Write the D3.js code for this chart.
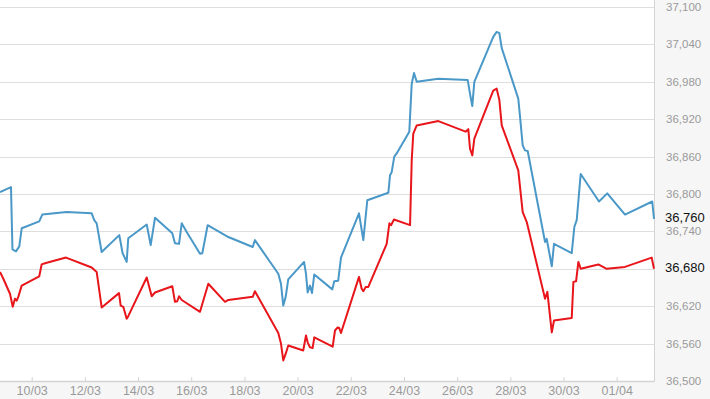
<!DOCTYPE html>
<html><head><meta charset="utf-8">
<script src="https://cdn.jsdelivr.net/npm/d3@7"></script>
<style>
html,body{margin:0;padding:0;background:#f6f6f6;}
svg{display:block;}
</style></head>
<body>
<script>
// ---- data ----
const blueDates = ["2020-03-08 19:25","2020-03-09 05:20","2020-03-09 06:40","2020-03-09 09:50","2020-03-09 12:50","2020-03-09 15:00",
"2020-03-10 06:50","2020-03-10 09:35","2020-03-11 07:35","2020-03-12 06:10","2020-03-12 08:30","2020-03-12 10:40","2020-03-12 15:10",
"2020-03-13 07:05","2020-03-13 10:05","2020-03-13 13:45","2020-03-13 15:10","2020-03-14 07:50","2020-03-14 11:25","2020-03-14 15:20",
"2020-03-15 06:55","2020-03-15 09:20","2020-03-15 13:00","2020-03-15 15:25","2020-03-15 19:55","2020-03-16 07:55","2020-03-16 10:00",
"2020-03-16 14:50","2020-03-17 09:30","2020-03-18 07:30","2020-03-18 09:30","2020-03-19 06:35","2020-03-19 09:00","2020-03-19 11:05",
"2020-03-19 13:15","2020-03-19 15:35","2020-03-20 05:50","2020-03-20 07:35","2020-03-20 09:05","2020-03-20 11:10","2020-03-20 13:00",
"2020-03-20 15:05","2020-03-21 07:20","2020-03-21 09:05","2020-03-21 12:40","2020-03-21 15:10","2020-03-22 07:25","2020-03-22 11:20",
"2020-03-22 14:55","2020-03-23 09:55","2020-03-23 11:25","2020-03-23 12:55","2020-03-23 15:15","2020-03-23 17:25","2020-03-24 04:50",
"2020-03-24 07:00","2020-03-24 09:05","2020-03-24 11:30","2020-03-25 07:00","2020-03-26 09:30","2020-03-26 11:35","2020-03-26 13:40",
"2020-03-26 15:30","2020-03-27 08:35","2020-03-27 11:40","2020-03-27 14:05","2020-03-27 16:15","2020-03-28 07:10","2020-03-28 08:45",
"2020-03-28 11:10","2020-03-28 13:15","2020-03-28 15:40","2020-03-29 07:20","2020-03-29 08:50","2020-03-29 13:25","2020-03-29 15:25",
"2020-03-30 07:25","2020-03-30 09:45","2020-03-30 11:55","2020-03-30 15:30","2020-03-31 08:00","2020-03-31 15:30","2020-04-01 07:30",
"2020-04-02 08:05","2020-04-02 09:40"];
const blueValues = [36803,36811,36711,36708,36716,36745,
36756,36767,36771,36769,36758,36753,36707,
36734,36705,36691,36729,36751,36718,36762,
36737,36721,36720,36753,36739,36704,36705,
36750,36731,36715,36726,36672,36656,36621,
36635,36663,36691,36672,36642,36653,36641,
36671,36647,36660,36661,36698,36769,36726,
36790,36802,36830,36835,36860,36865,36900,
36977,36994,36980,36985,36983,36961,36941,
36980,37052,37060,37058,37034,36953,36924,
36878,36870,36869,36723,36728,36684,36720,
36705,36747,36758,36832,36788,36801,36767,
36788,36760];

const redDates = ["2020-03-08 19:25","2020-03-08 22:25","2020-03-09 04:25","2020-03-09 06:55","2020-03-09 08:55","2020-03-09 10:30","2020-03-09 11:55","2020-03-09 15:00",
"2020-03-10 06:50","2020-03-10 09:00","2020-03-10 12:00","2020-03-11 07:00","2020-03-12 06:10","2020-03-12 10:40","2020-03-12 15:10",
"2020-03-13 06:50","2020-03-13 08:20","2020-03-13 10:40","2020-03-13 13:45","2020-03-13 15:10","2020-03-14 07:50","2020-03-14 12:20","2020-03-14 15:20",
"2020-03-15 06:55","2020-03-15 09:20","2020-03-15 11:25","2020-03-15 13:00","2020-03-15 15:25","2020-03-16 07:55","2020-03-16 15:25",
"2020-03-17 06:30","2020-03-17 09:30","2020-03-18 07:30","2020-03-18 09:30","2020-03-19 06:35","2020-03-19 09:00","2020-03-19 11:05",
"2020-03-19 13:30","2020-03-19 15:35","2020-03-20 05:05","2020-03-20 07:35","2020-03-20 09:05","2020-03-20 11:10","2020-03-20 13:35",
"2020-03-20 15:05","2020-03-21 07:40","2020-03-21 09:45","2020-03-21 12:10","2020-03-21 13:35","2020-03-21 15:10","2020-03-22 07:25",
"2020-03-22 09:50","2020-03-22 11:20","2020-03-22 13:30","2020-03-22 15:50","2020-03-23 08:25","2020-03-23 10:50","2020-03-23 12:20",
"2020-03-23 15:00","2020-03-24 05:30","2020-03-24 07:00","2020-03-24 08:25","2020-03-24 11:30","2020-03-25 07:00","2020-03-26 07:40",
"2020-03-26 10:05","2020-03-26 11:35","2020-03-26 13:40","2020-03-26 15:30","2020-03-27 08:35","2020-03-27 11:40","2020-03-27 14:05",
"2020-03-27 16:15","2020-03-28 07:10","2020-03-28 11:10","2020-03-28 14:50","2020-03-29 07:20","2020-03-29 09:25","2020-03-29 13:25",
"2020-03-29 15:25","2020-03-30 07:25","2020-03-30 08:55","2020-03-30 11:20","2020-03-30 13:25","2020-03-30 15:30","2020-03-31 07:25",
"2020-03-31 15:00","2020-04-01 07:30","2020-04-02 07:35","2020-04-02 09:40"];
const redValues = [36675,36664,36640,36619,36632,36629,36635,36653,
36668,36687,36689,36698,36682,36675,36618,
36641,36621,36619,36600,36604,36666,36636,36642,
36652,36627,36628,36636,36630,36611,36656,
36627,36630,36635,36644,36577,36560,36533,
36545,36557,36549,36573,36562,36554,36553,
36570,36555,36581,36586,36585,36577,36667,
36648,36644,36651,36651,36720,36753,36750,
36759,36750,36854,36897,36910,36917,36900,
36904,36873,36862,36889,36966,36969,36951,
36910,36838,36771,36755,36632,36643,36578,
36597,36601,36659,36660,36691,36680,36687,
36680,36683,36698,36680];

const tickLabels = ["10/03","12/03","14/03","16/03","18/03","20/03","22/03","24/03","26/03","28/03","30/03","01/04"];
const yTicks = [36500,36560,36620,36680,36740,36800,36860,36920,36980,37040,37100];
const seriesColors = ["#4a98c8","#e8161b"];

// ---- chart ----
const W = 710, H = 399;
const plot = {left:0, top:0, right:654, bottom:381};
const parse = d3.timeParse("%Y-%m-%d %H:%M");
const parseTick = s => { const [d,m] = s.split("/"); return new Date(2020, +m-1, +d); };

const blue = blueDates.map((d,i)=>({date:parse(d), value:blueValues[i]}));
const red = redDates.map((d,i)=>({date:parse(d), value:redValues[i]}));

const x = d3.scaleTime()
  .domain(d3.extent(blue.concat(red), d=>d.date))
  .range([plot.left, plot.right]);
const y = d3.scaleLinear().domain([36500,37100]).range([plot.bottom, 7]);

const svg = d3.select("body").append("svg").attr("width",W).attr("height",H);

svg.append("rect").attr("x",plot.left).attr("y",plot.top)
  .attr("width",plot.right-plot.left).attr("height",plot.bottom-plot.top)
  .attr("fill","#fff");

// gridlines
svg.append("g").selectAll("line").data(yTicks).join("line")
  .attr("x1",plot.left).attr("x2",plot.right)
  .attr("y1",d=>Math.round(y(d))+0.5).attr("y2",d=>Math.round(y(d))+0.5)
  .attr("stroke","#dedede").attr("stroke-width",1.2);

// border right & bottom
svg.append("line").attr("x1",plot.right+0.5).attr("x2",plot.right+0.5)
  .attr("y1",0).attr("y2",plot.bottom+0.5).attr("stroke","#d4d4d4");
svg.append("line").attr("x1",0).attr("x2",plot.right+0.5)
  .attr("y1",plot.bottom+0.5).attr("y2",plot.bottom+0.5).attr("stroke","#d4d4d4").attr("stroke-width",1.5);

// x axis
const tickDates = tickLabels.map(parseTick);
const xAxis = d3.axisBottom(x).tickValues(tickDates)
  .tickFormat((d,i)=>tickLabels[i]).tickSize(5).tickPadding(4);
const gx = svg.append("g").attr("transform",`translate(0,${plot.bottom-4})`).call(xAxis);
gx.select(".domain").remove();
gx.selectAll(".tick line").attr("stroke","#d4d4d4");
gx.selectAll(".tick text").attr("fill","#9a9a9a")
  .style("font-family","'Liberation Sans', Arial, sans-serif").style("font-size","12.5px");

// lines
const line = d3.line().x(d=>x(d.date)).y(d=>y(d.value));
[blue, red].forEach((s,i)=>{
  svg.append("path").datum(s).attr("d",line)
    .attr("fill","none").attr("stroke",seriesColors[i])
    .attr("stroke-width",2).attr("stroke-linejoin","round");
});

// y axis labels (right)
const lastVals = [blue[blue.length-1].value, red[red.length-1].value];
const fmt = d3.format(",");
svg.append("g").selectAll("text")
  .data(yTicks.filter(t=>lastVals.every(v=>Math.abs(y(v)-y(t))>8)))
  .join("text")
  .attr("x",666).attr("y",d=>y(d)).attr("dy","0.35em")
  .attr("fill","#9a9a9a")
  .style("font-family","'Liberation Sans', Arial, sans-serif").style("font-size","11.5px")
  .text(d=>fmt(d));

// current-value labels
svg.append("g").selectAll("text").data(lastVals).join("text")
  .attr("x",665).attr("y",d=>y(d)-1).attr("dy","0.35em")
  .attr("fill","#111")
  .style("font-family","'Liberation Sans', Arial, sans-serif").style("font-size","13px")
  .text(d=>fmt(d));
</script>
</body></html>
